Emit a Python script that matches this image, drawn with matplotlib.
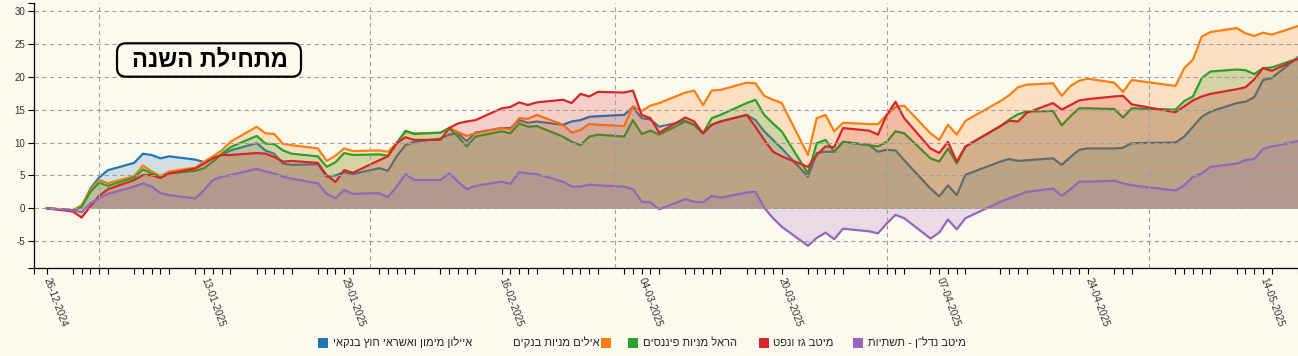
import matplotlib
matplotlib.use("Agg")
import matplotlib.pyplot as plt
import matplotlib.dates as mdates
from matplotlib.patches import FancyBboxPatch, Rectangle
from matplotlib.transforms import IdentityTransform
import pandas as pd

# ---------------- data ----------------
dates = [
    "2024-12-26", "2024-12-29", "2024-12-30", "2024-12-31",
    "2025-01-01", "2025-01-02", "2025-01-05", "2025-01-06", "2025-01-07", "2025-01-08", "2025-01-09",
    "2025-01-12", "2025-01-13", "2025-01-14", "2025-01-15", "2025-01-16", "2025-01-19", "2025-01-20",
    "2025-01-21", "2025-01-22", "2025-01-23", "2025-01-26", "2025-01-27", "2025-01-28", "2025-01-29",
    "2025-01-30",
    "2025-02-02", "2025-02-03", "2025-02-04", "2025-02-05", "2025-02-06", "2025-02-09", "2025-02-10",
    "2025-02-11", "2025-02-12", "2025-02-13", "2025-02-16", "2025-02-17", "2025-02-18", "2025-02-19",
    "2025-02-20", "2025-02-23", "2025-02-24", "2025-02-25", "2025-02-26", "2025-02-27",
    "2025-03-02", "2025-03-03", "2025-03-04", "2025-03-05", "2025-03-06", "2025-03-09", "2025-03-10",
    "2025-03-11", "2025-03-12", "2025-03-13", "2025-03-16", "2025-03-17", "2025-03-18", "2025-03-19",
    "2025-03-20", "2025-03-23", "2025-03-24", "2025-03-25", "2025-03-26", "2025-03-27", "2025-03-30",
    "2025-03-31",
    "2025-04-01", "2025-04-02", "2025-04-03", "2025-04-06", "2025-04-07", "2025-04-08", "2025-04-09",
    "2025-04-10", "2025-04-14", "2025-04-15", "2025-04-16", "2025-04-17", "2025-04-20", "2025-04-21",
    "2025-04-22", "2025-04-23", "2025-04-24", "2025-04-27", "2025-04-28", "2025-04-29",
    "2025-05-04", "2025-05-05", "2025-05-06", "2025-05-07", "2025-05-08", "2025-05-11", "2025-05-12",
    "2025-05-13", "2025-05-14", "2025-05-15", "2025-05-18",
]

tick_dates = ["2024-12-26", "2025-01-13", "2025-01-29", "2025-02-16", "2025-03-04",
              "2025-03-20", "2025-04-07", "2025-04-24", "2025-05-14"]
month_lines = ["2025-01-01", "2025-02-01", "2025-03-01", "2025-04-01", "2025-05-01"]
y_ticks = [-5, 0, 5, 10, 15, 20, 25, 30]

names = [
    "איילון מימון ואשראי חוץ בנקאי",
    "אילים מניות בנקים",
    "הראל מניות פיננסים",
    "מיטב גז ונפט",
    'מיטב נדל"ן - תשתיות',
]
title = "מתחילת השנה"

ayalon = [0, -0.3, 0.3, 3.0, 4.7, 5.8, 6.9, 8.3, 8.1, 7.6,
          7.9, 7.4, 7.0, 7.7, 8.1, 8.8, 9.9, 8.8, 8.3, 6.8,
          6.6, 6.7, 4.8, 5.0, 5.5, 5.2, 6.1, 5.7, 7.9, 9.6,
          10.1, 10.6, 11.2, 11.4, 10.2, 11.5, 12.2, 12.2, 13.4, 13.0,
          13.2, 12.7, 13.2, 13.4, 13.9, 14.0, 14.2, 15.4, 13.7, 13.5,
          12.4, 13.3, 12.7, 11.4, 12.7, 13.2, 14.2, 13.4, 11.7, 10.4,
          9.1, 4.8, 8.4, 8.6, 8.6, 10.1, 9.6, 8.6, 8.9, 8.8,
          7.3, 3.0, 1.8, 3.5, 2.0, 5.1, 7.1, 7.5, 7.2, 7.3,
          7.6, 6.6, 7.8, 8.9, 9.1, 9.1, 9.2, 9.9, 10.0, 10.9,
          12.4, 13.9, 14.7, 16.0, 16.2, 16.9, 19.5, 19.8, 23.0]

ayalim = [0, -0.3, 0.5, 2.8, 4.3, 3.8, 4.9, 6.5, 5.6, 4.9,
          5.6, 6.2, 7.1, 7.9, 8.8, 10.1, 12.4, 11.4, 11.3, 9.8,
          9.6, 9.1, 7.2, 8.0, 9.1, 8.7, 8.8, 8.6, 9.9, 11.6,
          11.4, 11.5, 12.2, 11.6, 11.0, 11.4, 12.2, 12.0, 13.7, 13.6,
          14.2, 12.7, 11.5, 11.9, 12.8, 12.7, 12.5, 15.5, 14.8, 15.6,
          16.0, 17.6, 17.9, 15.7, 17.9, 18.0, 19.1, 19.0, 17.1, 16.5,
          16.0, 8.1, 13.7, 14.2, 11.7, 13.0, 12.8, 12.8, 14.2, 15.4,
          15.6, 11.4, 10.4, 12.7, 11.2, 13.3, 16.3, 17.2, 18.4, 18.8,
          19.0, 17.1, 18.6, 19.4, 19.7, 19.1, 17.7, 19.5, 18.6, 21.3,
          22.6, 26.1, 26.8, 27.4, 26.6, 26.2, 26.7, 26.4, 27.7]

harel = [0, -0.3, 0.2, 2.5, 3.9, 3.4, 4.7, 5.9, 5.3, 4.7,
         5.3, 5.7, 6.1, 7.1, 8.3, 9.3, 11.0, 9.85, 9.75, 8.8,
         8.3, 7.9, 6.3, 7.0, 8.4, 8.1, 8.2, 8.0, 9.9, 11.8,
         11.3, 11.5, 12.2, 10.9, 9.4, 10.9, 11.7, 11.4, 12.9, 12.4,
         12.5, 10.9, 10.1, 9.6, 10.9, 11.2, 10.9, 13.4, 11.3, 11.8,
         11.2, 13.2, 12.7, 11.4, 13.7, 14.2, 16.0, 16.5, 14.2, 12.9,
         11.7, 5.3, 9.9, 10.4, 8.6, 10.1, 9.6, 9.4, 10.1, 11.7,
         11.4, 7.6, 7.1, 9.1, 6.8, 9.4, 12.5, 13.5, 14.3, 14.7,
         14.8, 12.6, 14.0, 15.2, 15.2, 15.1, 13.8, 15.2, 15.0, 16.3,
         17.0, 19.8, 20.8, 21.1, 21.0, 20.4, 21.3, 21.4, 22.8]

meitav_gas = [0, -0.5, -1.4, 0.3, 1.9, 2.9, 4.3, 5.05, 5.05, 4.6,
              5.3, 6.06, 6.8, 7.6, 8.1, 8.1, 8.4, 8.3, 7.8, 7.1,
              7.2, 6.9, 5.0, 4.0, 5.8, 5.4, 7.3, 7.9, 9.9, 10.8,
              10.4, 10.4, 12.2, 12.9, 13.2, 13.4, 15.2, 15.4, 16.1, 15.7,
              16.1, 16.5, 16.0, 17.4, 17.0, 17.7, 17.6, 17.9, 14.2, 13.7,
              11.5, 13.8, 13.2, 11.4, 12.7, 13.2, 14.2, 12.4, 10.4, 8.6,
              7.9, 6.3, 8.1, 9.4, 9.3, 12.2, 11.8, 11.2, 14.2, 16.2,
              13.7, 9.1, 8.4, 10.1, 7.1, 9.4, 12.5, 13.3, 13.2, 14.5,
              16.0, 15.0, 15.7, 16.4, 16.6, 17.0, 17.1, 15.8, 14.6, 15.5,
              16.4, 17.0, 17.4, 18.1, 18.4, 19.6, 21.3, 20.9, 22.7]

meitav_nadlan = [0, -0.3, -0.6, 0.8, 1.5, 2.2, 3.3, 3.8, 3.3, 2.3,
                 2.0, 1.5, 2.8, 4.3, 4.8, 5.05, 6.0, 5.6, 5.3, 4.8,
                 4.5, 3.8, 2.2, 1.5, 2.8, 2.2, 2.3, 1.7, 3.3, 5.2,
                 4.3, 4.3, 5.3, 4.05, 2.9, 3.4, 4.05, 3.7, 5.5, 5.3,
                 5.2, 4.05, 3.3, 3.3, 3.6, 3.5, 3.3, 2.9, 1.0, 0.9,
                 -0.15, 1.4, 1.0, 0.9, 1.9, 1.6, 2.4, 2.5, 0.1, -1.5,
                 -2.8, -5.7, -4.5, -3.7, -4.7, -3.1, -3.5, -3.8, -2.3, -1.0,
                 -1.5, -4.6, -3.7, -1.7, -3.2, -1.5, 1.0, 1.5, 2.0, 2.5,
                 3.0, 1.9, 2.9, 4.05, 4.05, 4.2, 3.8, 3.5, 2.7, 3.5,
                 4.8, 5.3, 6.3, 6.8, 7.3, 7.5, 9.0, 9.4, 10.2]

series = [ayalon, ayalim, harel, meitav_gas, meitav_nadlan]
colors = ["#1f77b4", "#ff7f0e", "#2ca02c", "#d62728", "#9467bd"]


def rtl(s):
    # visual order for right-to-left Hebrew text
    return s[::-1]


# ---------------- figure ----------------
plt.rcParams["font.family"] = ["Liberation Sans", "DejaVu Sans"]
W, H = 1298, 356
BG = "#fdf9ef"
fig = plt.figure(figsize=(W / 100, H / 100), dpi=100)
fig.patch.set_facecolor(BG)

ax_l, ax_r, ax_t, ax_b = 34, 1298, 3.3, 268.3
ax = fig.add_axes([ax_l / W, (H - ax_b) / H, (ax_r - ax_l) / W, (ax_b - ax_t) / H])
ax.set_facecolor(BG)

xn = mdates.date2num(pd.to_datetime(dates))
px_per_day = 8.765
x0 = xn[0] - (46.7 - ax_l) / px_per_day
x1 = xn[0] + (ax_r - 46.7) / px_per_day
y_per_px = 1 / 6.578
y1 = (208.3 - ax_t) * y_per_px
y0 = -(ax_b - 208.3) * y_per_px

for i, (vals, c) in enumerate(zip(series, colors)):
    ax.fill_between(xn, 0, vals, color=c, alpha=0.2, lw=0, zorder=3 + 2 * i)
    ax.plot(xn, vals, color=c, lw=1.6, zorder=4 + 2 * i, solid_joinstyle="round",
            solid_capstyle="round")

grid_kw = dict(color="#a0a0a0", lw=0.8, ls=(0, (4, 3)), zorder=20)
for v in y_ticks:
    ax.axhline(v, **grid_kw)
for d in mdates.date2num(pd.to_datetime(month_lines)):
    ax.axvline(d, **grid_kw)

ax.set_xlim(x0, x1)
ax.set_ylim(y0, y1)

for s in ["top", "right"]:
    ax.spines[s].set_visible(False)
for s in ["left", "bottom"]:
    ax.spines[s].set_color("black")
    ax.spines[s].set_linewidth(0.9)
    ax.spines[s].set_zorder(25)

tx = mdates.date2num(pd.to_datetime(tick_dates))
ax.set_xticks(tx)
ax.set_xticklabels([pd.Timestamp(d).strftime("%d-%m-%Y") for d in tick_dates],
                   rotation=-70, ha="left", va="center", rotation_mode="anchor",
                   fontsize=7.2, color="#333333")
ax.set_xticks(list(xn) + [x0], minor=True)
ax.set_yticks(y_ticks)
ax.set_yticklabels([str(v) for v in y_ticks], fontsize=7, color="#333333")
ax.set_yticks([y0, y1], minor=True)
ax.tick_params(axis="both", which="both", length=4.3, width=0.8, color="black",
               direction="out")
ax.tick_params(axis="x", which="major", pad=2.5)
ax.tick_params(axis="y", which="major", pad=2)

# ---------------- title box ----------------
box = FancyBboxPatch((117, H - 76.7), 184, 33.4,
                     boxstyle="round,pad=0,rounding_size=9",
                     transform=IdentityTransform(), facecolor=BG,
                     edgecolor="black", linewidth=1.6, zorder=30)
fig.add_artist(box)
fig.text(210 / W, 1 - 60.5 / H, rtl(title), ha="center", va="center",
         fontsize=17, fontweight="bold", color="black", zorder=31)

# ---------------- legend ----------------
leg_y = 342.5
sq = 10
legend_layout = [  # (square left px, text left px)
    (318, 333),
    (601, 513),
    (628, 643),
    (759, 773),
    (853, 868),
]
for (sx, tx_), name, c in zip(legend_layout, names, colors):
    fig.add_artist(Rectangle((sx / W, 1 - (leg_y + sq / 2) / H), sq / W, sq / H,
                             transform=fig.transFigure, facecolor=c, edgecolor="none"))
    fig.text(tx_ / W, 1 - leg_y / H, rtl(name), ha="left", va="center",
             fontsize=8, color="#222222")

fig.savefig("out.png", dpi=100, facecolor=BG)
